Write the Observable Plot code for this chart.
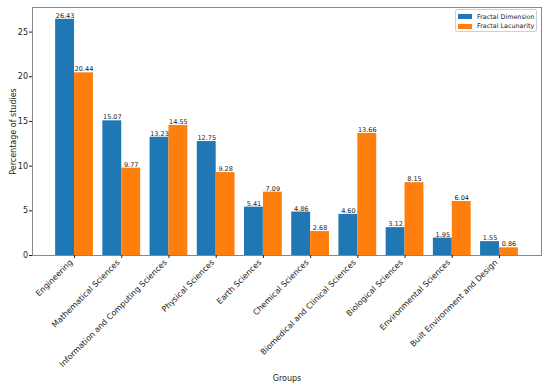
<!DOCTYPE html>
<html>
<head>
<meta charset="utf-8">
<script src="https://cdn.jsdelivr.net/npm/d3@7"></script>
<script src="https://cdn.jsdelivr.net/npm/@observablehq/plot@0.6"></script>
<style>
  html, body { margin: 0; padding: 0; background: #fff; }
  #wrap { position: relative; width: 550px; height: 388px; font-family: "DejaVu Sans", sans-serif; }
  #legend { position: absolute; left: 455px; top: 9px; width: 82px; height: 23px; border: 1px solid #d0d0d0; border-radius: 2px; background: rgba(255,255,255,0.8); box-sizing: border-box; }
  .row { position: absolute; left: 2px; height: 9px; display: flex; align-items: center; font-size: 6.4px; color: #222; white-space: nowrap; }
  .sw { width: 14px; height: 5px; margin-right: 5px; }
</style>
</head>
<body>
<div id="wrap">
  <div id="chart"></div>
  <div id="legend"></div>
</div>
<script>
const groups = [
  "Engineering",
  "Mathematical Sciences",
  "Information and Computing Sciences",
  "Physical Sciences",
  "Earth Sciences",
  "Chemical Sciences",
  "Biomedical and Clinical Sciences",
  "Biological Sciences",
  "Environmental Sciences",
  "Built Environment and Design"
];
const seriesNames = ["Fractal Dimension", "Fractal Lacunarity"];
const fractalDimension = [26.43, 15.07, 13.23, 12.75, 5.41, 4.86, 4.60, 3.12, 1.95, 1.55];
const fractalLacunarity = [20.44, 9.77, 14.55, 9.28, 7.09, 2.68, 13.66, 8.15, 6.04, 0.86];
const colors = ["#1f77b4", "#ff7f0e"];

const barWidth = 0.4;
const rows = groups.flatMap((g, i) => [
  {i, group: g, series: seriesNames[0], value: fractalDimension[i], k: 0},
  {i, group: g, series: seriesNames[1], value: fractalLacunarity[i], k: 1}
]);
const yMax = d3.max(rows, d => d.value) * 1.05;
const tickIdx = d3.range(groups.length);
const yTicks = d3.range(0, 26, 5);

const axisMarks = Plot.axisX ? [
  Plot.axisY(yTicks, {tickSize: 3, tickPadding: 1.5, fontSize: 8,
    label: "Percentage of studies", labelAnchor: "center", labelOffset: 22, labelArrow: "none"}),
  Plot.axisX(tickIdx, {tickSize: 3, tickFormat: () => "", label: null}),
  Plot.axisX(tickIdx, {tickSize: 0, tickPadding: 5.5, dx: -3.3, fontSize: 8,
    tickFormat: i => groups[i], tickRotate: -45,
    label: "Groups", labelAnchor: "center", labelOffset: 125, labelArrow: "none"})
] : [];

const chart = Plot.plot({
  width: 550,
  height: 388,
  marginLeft: 32,
  marginRight: 9,
  marginTop: 7,
  marginBottom: 133,
  style: {fontFamily: "DejaVu Sans, sans-serif", fontSize: "8px", color: "#222", background: "#fff"},
  x: {
    type: "linear",
    domain: [-0.89, groups.length - 1 + 0.89],
    ticks: 10,
    tickFormat: i => groups[Math.round(i)] ?? "",
    tickRotate: -45,
    tickSize: 3,
    tickPadding: 2,
    label: "Groups",
    labelAnchor: "center",
    labelOffset: 125
  },
  y: {
    domain: [0, yMax],
    ticks: 6,
    tickSize: 3,
    tickPadding: 1.5,
    label: "Percentage of studies",
    labelAnchor: "center",
    labelOffset: 22
  },
  color: {domain: seriesNames, range: colors},
  marks: [
    Plot.rectY(rows, {
      x1: d => d.i - barWidth + d.k * barWidth,
      x2: d => d.i + d.k * barWidth,
      y1: 0,
      y2: "value",
      fill: "series"
    }),
    Plot.text(rows, {
      x: d => d.i - barWidth / 2 + d.k * barWidth,
      y: "value",
      text: d => d.value.toFixed(2),
      lineAnchor: "bottom",
      dy: -1.5,
      fontSize: 6.5,
      fill: "#222"
    }),
    Plot.frame({stroke: "#888", strokeWidth: 1}),
    ...axisMarks
  ]
});
document.getElementById("chart").appendChild(chart);

const legend = document.getElementById("legend");
seriesNames.forEach((s, j) => {
  const row = document.createElement("div");
  row.className = "row";
  row.style.top = (2 + j * 9.5) + "px";
  const sw = document.createElement("span");
  sw.className = "sw";
  sw.style.background = colors[j];
  const t = document.createElement("span");
  t.textContent = s;
  row.appendChild(sw);
  row.appendChild(t);
  legend.appendChild(row);
});
</script>
</body>
</html>
